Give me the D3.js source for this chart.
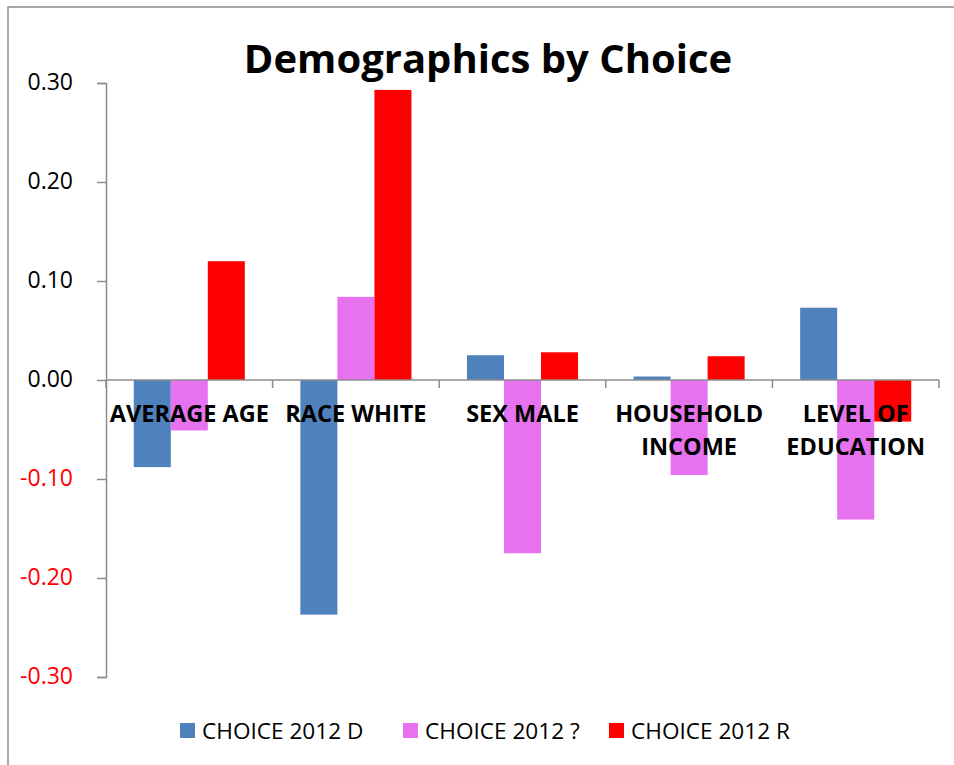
<!DOCTYPE html>
<html>
<head>
<meta charset="utf-8">
<script src="https://cdn.jsdelivr.net/npm/d3@7"></script>
<style>
  html, body { margin: 0; padding: 0; background: #fff; }
  svg { display: block; }
</style>
</head>
<body>
<svg id="chart" width="954" height="765"></svg>
<script>
// Chart data
const categories = [["AVERAGE AGE"], ["RACE WHITE"], ["SEX MALE"], ["HOUSEHOLD", "INCOME"], ["LEVEL OF", "EDUCATION"]];
const seriesNames = ["CHOICE 2012 D", "CHOICE 2012 ?", "CHOICE 2012 R"];
const seriesColors = ["#4F81BD", "#E672EF", "#FF0000"];
const valuesD = [-0.088, -0.237, 0.025, 0.0035, 0.073];
const valuesQ = [-0.051, 0.084, -0.175, -0.096, -0.141];
const valuesR = [0.120, 0.293, 0.028, 0.024, -0.042];
const yTicks = [-0.30, -0.20, -0.10, 0.00, 0.10, 0.20, 0.30];

const series = [valuesD, valuesQ, valuesR];
const FONT = "'Open Sans', sans-serif";
const AXIS_GRAY = "#8c8c8c";

const svg = d3.select("#chart");

// Outer frame
svg.append("rect")
  .attr("x", 8).attr("y", 7)
  .attr("width", 960).attr("height", 780)
  .attr("fill", "none")
  .attr("stroke", AXIS_GRAY)
  .attr("stroke-width", 1.5);

// Plot area
const plot = { left: 106, right: 939, top: 83, bottom: 677 };

const x0 = d3.scaleBand()
  .domain(d3.range(categories.length))
  .range([plot.left, plot.right])
  .paddingInner(0)
  .paddingOuter(0);

const x1 = d3.scaleBand()
  .domain(d3.range(series.length))
  .range([0, x0.bandwidth()])
  .paddingInner(0)
  .paddingOuter(0.75);

const y = d3.scaleLinear()
  .domain([-0.30, 0.30])
  .range([plot.bottom, plot.top]);

// Bars
series.forEach((vals, s) => {
  svg.append("g")
    .selectAll("rect")
    .data(vals)
    .join("rect")
    .attr("x", (d, i) => x0(i) + x1(s))
    .attr("width", x1.bandwidth())
    .attr("y", d => y(Math.max(0, d)))
    .attr("height", d => Math.abs(y(d) - y(0)))
    .attr("fill", seriesColors[s]);
});

// Y axis
const fmt = d3.format(".2f");
const yAxis = d3.axisLeft(y)
  .tickValues(yTicks)
  .tickFormat(d => fmt(d).replace("\u2212", "-"))
  .tickSize(9)
  .tickPadding(24);

const gy = svg.append("g")
  .attr("transform", `translate(${plot.left},0)`)
  .call(yAxis);
gy.select(".domain").attr("stroke", AXIS_GRAY).attr("stroke-width", 1.5);
gy.selectAll(".tick line").attr("stroke", AXIS_GRAY).attr("stroke-width", 1.5);
gy.selectAll(".tick text")
  .attr("font-family", FONT)
  .attr("font-size", 23)
  .attr("dy", "0.3em")
  .attr("fill", d => d < 0 ? "#FF0000" : "#000");

// X axis along zero
const xTickPos = d3.range(categories.length + 1).map(i => plot.left + i * x0.step());
const gx = svg.append("g");
gx.append("line")
  .attr("x1", plot.left).attr("x2", plot.right)
  .attr("y1", y(0)).attr("y2", y(0))
  .attr("stroke", AXIS_GRAY).attr("stroke-width", 1.5);
gx.selectAll("line.tick")
  .data(xTickPos)
  .join("line")
  .attr("class", "tick")
  .attr("x1", d => d).attr("x2", d => d)
  .attr("y1", y(0)).attr("y2", y(0) + 8)
  .attr("stroke", AXIS_GRAY).attr("stroke-width", 1.5);

// Category labels
const labels = svg.append("g");
categories.forEach((lines, i) => {
  const t = labels.append("text")
    .attr("x", x0(i) + x0.bandwidth() / 2)
    .attr("y", 421.5)
    .attr("text-anchor", "middle")
    .attr("font-family", FONT)
    .attr("font-weight", "bold")
    .attr("font-size", 23.5)
    .attr("fill", "#000");
  lines.forEach((ln, j) => {
    t.append("tspan")
      .attr("x", x0(i) + x0.bandwidth() / 2)
      .attr("dy", j === 0 ? 0 : 33)
      .text(ln);
  });
});

// Title
svg.append("text")
  .attr("x", 488)
  .attr("y", 73)
  .attr("text-anchor", "middle")
  .attr("font-family", FONT)
  .attr("font-weight", "bold")
  .attr("font-size", 40)
  .attr("fill", "#000")
  .text("Demographics by Choice");

// Legend
const legendX = [180, 403, 609];
const legend = svg.append("g");
seriesNames.forEach((name, s) => {
  legend.append("rect")
    .attr("x", legendX[s]).attr("y", 723)
    .attr("width", 15).attr("height", 15)
    .attr("fill", seriesColors[s]);
  legend.append("text")
    .attr("x", legendX[s] + 22)
    .attr("y", 738.5)
    .attr("font-family", FONT)
    .attr("font-size", 22.6)
    .attr("fill", "#000")
    .text(name);
});
</script>
</body>
</html>
